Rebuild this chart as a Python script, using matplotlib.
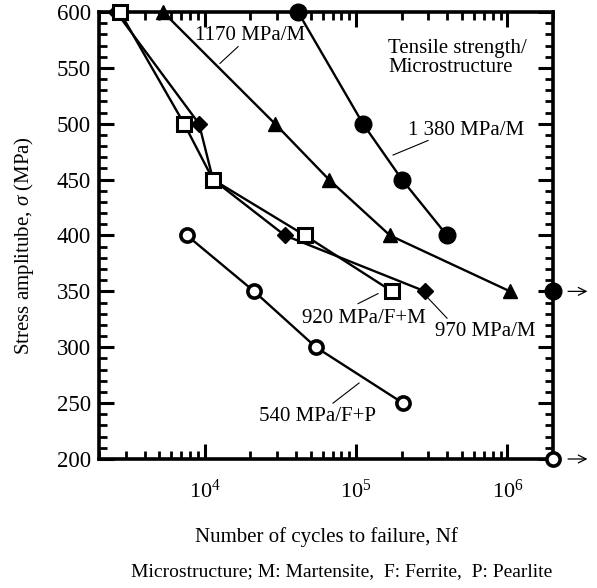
import matplotlib
matplotlib.use('Agg')
import matplotlib.pyplot as plt
import matplotlib.ticker as mticker

plt.rcParams['font.family'] = ['Liberation Serif', 'DejaVu Serif']
plt.rcParams['mathtext.fontset'] = 'custom'
plt.rcParams['mathtext.rm'] = 'Liberation Serif'
plt.rcParams['mathtext.it'] = 'Liberation Serif:italic'
plt.rcParams['font.size'] = 15

# Data: cycles to failure vs stress amplitude (MPa)
n_1380 = [41300, 111000, 201000, 399000]
s_1380 = [600, 500, 450, 400]
n_1170 = [5300, 29100, 66200, 167600, 1040000]
s_1170 = [600, 500, 450, 400, 350]
n_970 = [2600, 9160, 11340, 33900, 285600]
s_970 = [600, 500, 450, 400, 350]
n_920 = [2750, 7300, 11340, 46000, 172800]
s_920 = [600, 500, 450, 400, 350]
n_540 = [7630, 21200, 54300, 204000]
s_540 = [400, 350, 300, 250]

# run-outs (no failure), drawn at the right edge with an arrow
runout_n = [2.0e6, 2.0e6]
runout_s = [350, 200]
runout_open = [False, True]

# labels: text, text position, leader line start, leader line end
labels = [
    ('1170 MPa/M', (8620, 579), (16600, 569), (12600, 554), 'left'),
    ('1 380 MPa/M', (220400, 494), (298800, 485), (175400, 472), 'left'),
    ('920 MPa/F+M', (112800, 326), (139600, 348), (103000, 339), 'center'),
    ('970 MPa/M', (332600, 314), (298800, 344), (399000, 326), 'left'),
    ('540 MPa/F+P', (56000, 238), (104600, 268), (70400, 250), 'center'),
]

fig = plt.figure(figsize=(5.97, 5.88), dpi=100)
ax = fig.add_axes([0.1658, 0.2194, 0.7605, 0.7602])

lw = 1.7
ax.plot(n_1380, s_1380, '-o', color='black', lw=lw, ms=12, clip_on=False, zorder=3)
ax.plot(n_1170, s_1170, '-^', color='black', lw=lw, ms=10, clip_on=False, zorder=3)
ax.plot(n_970, s_970, '-D', color='black', lw=lw, ms=8.5, clip_on=False, zorder=3)
ax.plot(n_920, s_920, '-s', color='black', lw=lw, ms=10, mfc='white', mew=2.2,
        clip_on=False, zorder=4)
ax.plot(n_540, s_540, '-o', color='black', lw=lw, ms=9.5, mfc='white', mew=2.6,
        clip_on=False, zorder=4)

for n, s, is_open in zip(runout_n, runout_s, runout_open):
    if is_open:
        ax.plot(n, s, 'o', color='black', ms=9.5, mfc='white', mew=2.6, clip_on=False, zorder=5)
    else:
        ax.plot(n, s, 'o', color='black', ms=12, clip_on=False, zorder=5)
    ax.annotate('', xy=(1.082, s), xycoords=('axes fraction', 'data'),
                xytext=(1.027, s), textcoords=('axes fraction', 'data'),
                arrowprops=dict(arrowstyle='->', lw=0.9, color='black',
                                mutation_scale=14),
                annotation_clip=False)

for text, pos, p0, p1, ha in labels:
    ax.text(pos[0], pos[1], text, ha=ha, va='center', fontsize=15)
    ax.plot([p0[0], p1[0]], [p0[1], p1[1]], color='black', lw=0.8)

ax.text(162600, 559, 'Tensile strength/\nMicrostructure', ha='left', va='center',
        fontsize=15, linespacing=1.0)

ax.set_xscale('log')
ax.set_xlim(2000, 2.0e6)
ax.set_ylim(200, 600)
ax.xaxis.set_major_locator(mticker.LogLocator(base=10, numticks=10))
ax.xaxis.set_minor_locator(mticker.LogLocator(base=10, subs=range(2, 10), numticks=20))
ax.xaxis.set_minor_formatter(mticker.NullFormatter())
ax.yaxis.set_major_locator(mticker.MultipleLocator(50))
ax.yaxis.set_minor_locator(mticker.MultipleLocator(10))

ax.tick_params(which='both', direction='in', top=True, right=True)
ax.tick_params(which='major', length=11, width=2.2)
ax.tick_params(which='minor', length=6, width=2.0)
ax.tick_params(axis='x', which='major', pad=15, labelsize=16)
ax.tick_params(axis='y', which='major', pad=6, labelsize=16.5)

for sp in ax.spines.values():
    sp.set_linewidth(2.6)

fig.text(0.040, 0.583, r'Stress amplitube, $\sigma$ (MPa)', rotation=90,
         ha='center', va='center', fontsize=15)
fig.text(0.546, 0.0867, 'Number of cycles to failure, Nf', ha='center', va='center',
         fontsize=15)
fig.text(0.573, 0.0272, 'Microstructure; M: Martensite,  F: Ferrite,  P: Pearlite',
         ha='center', va='center', fontsize=14)

fig.savefig('out.png', dpi=100)
